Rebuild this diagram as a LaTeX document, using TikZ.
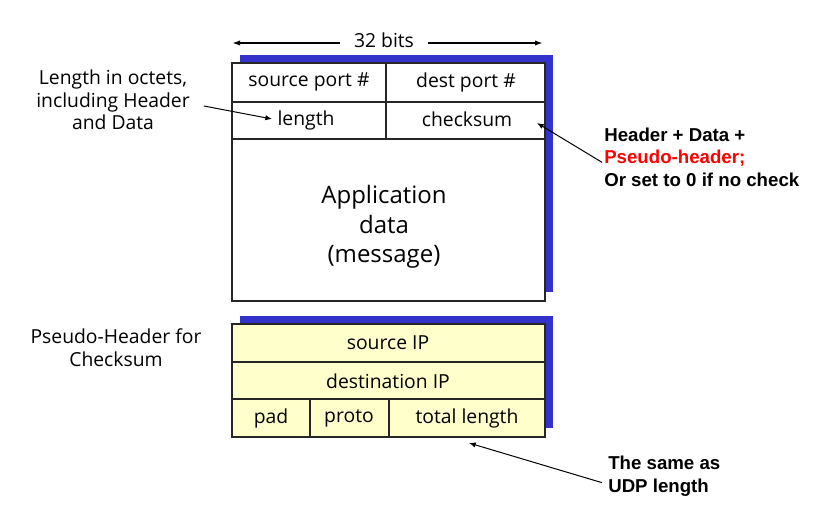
\documentclass[tikz,border=0pt]{standalone}
\usepackage{fontspec}
\setmainfont{Open Sans}
\newfontfamily\notefont{Liberation Sans}
\usepackage{xcolor}
\usetikzlibrary{arrows.meta}
\definecolor{shadowblue}{HTML}{3333CC}
\definecolor{pseudoyellow}{HTML}{FFFFCC}
\definecolor{notered}{HTML}{FF0000}

\begin{document}
\begin{tikzpicture}[x=0.75pt, y=-0.75pt,
  every node/.style={inner sep=0pt, font=\fontsize{14.5}{17}\selectfont},
  box/.style={draw=black!85, line width=1.4pt},
  cell/.style={draw=black!85, line width=1pt},
  shade/.style={fill=shadowblue},
  note/.style={align=center},
  boldnote/.style={align=left, anchor=west, font=\notefont\bfseries\fontsize{14}{17}\selectfont},
  pointer/.style={-{Latex[length=5pt,width=4pt]}, line width=0.75pt},
  spanline/.style={line width=1.2pt}
]
\useasboundingbox (0,0) rectangle (821,513);

% UDP segment
\fill[shade] (240,55) rectangle (553,292);
\draw[box, fill=white] (232,63) rectangle (545,301);
\draw[cell] (232,102) -- (545,102);
\draw[cell] (232,139) -- (545,139);
\draw[cell] (386,63) -- (386,139);
\node (srcport)  at (309,82)  {source port \#};
\node (dstport)  at (466,82)  {dest port \#};
\node (length)   at (306,120) {length};
\node (checksum) at (467,119) {checksum};
\node[note, font=\fontsize{18}{22}\selectfont] (appdata) at (384,227)
  {Application\\data\\(message)};

% 32 bits width
\node[inner xsep=10pt] (bits) at (384,40) {32 bits};
\coordinate (bitsleft)  at (232,43);
\coordinate (bitsright) at (543,43);
\draw[spanline, {Latex[length=6pt,width=4pt]}-] (bitsleft) -- (bits.west |- bitsleft);
\draw[spanline, -{Latex[length=6pt,width=4pt]}] (bits.east |- bitsright) -- (bitsright);

% pseudo header
\fill[shade] (240,316) rectangle (553,428);
\draw[box, fill=pseudoyellow] (232,324) rectangle (545,437);
\draw[cell] (232,362) -- (545,362);
\draw[cell] (232,399) -- (545,399);
\draw[cell] (310,399) -- (310,437);
\draw[cell] (389,399) -- (389,437);
\node (srcip)  at (388,343) {source IP};
\node (dstip)  at (388,381) {destination IP};
\node (pad)    at (271,418) {pad};
\node (proto)  at (349,418) {proto};
\node (totlen) at (467,418) {total length};

% side notes
\node[note] (lenlbl) at (113,100) {Length in octets,\\including Header\\and Data};
\node[note] (pseudolbl) at (116,348) {Pseudo-Header for\\Checksum};
\node[boldnote] (chknote) at (604,157)
  {Header + Data +\\\textcolor{notered}{Pseudo-header;}\\Or set to 0 if no check};
\node[boldnote] (samenote) at (608,476) {The same as\\UDP length};

% pointers
\coordinate (lenfrom) at (204,106);
\coordinate (lentip)  at (272,119);
\coordinate (chktip)  at (537,123);
\coordinate (totltip) at (469,443);
\draw[pointer] (lenfrom) -- (lentip);
\draw[pointer] ([xshift=-1.5pt, yshift=-4pt]chknote.west) -- (chktip);
\draw[pointer] ([xshift=-4.5pt, yshift=-5pt]samenote.west) -- (totltip);
\end{tikzpicture}
\end{document}
